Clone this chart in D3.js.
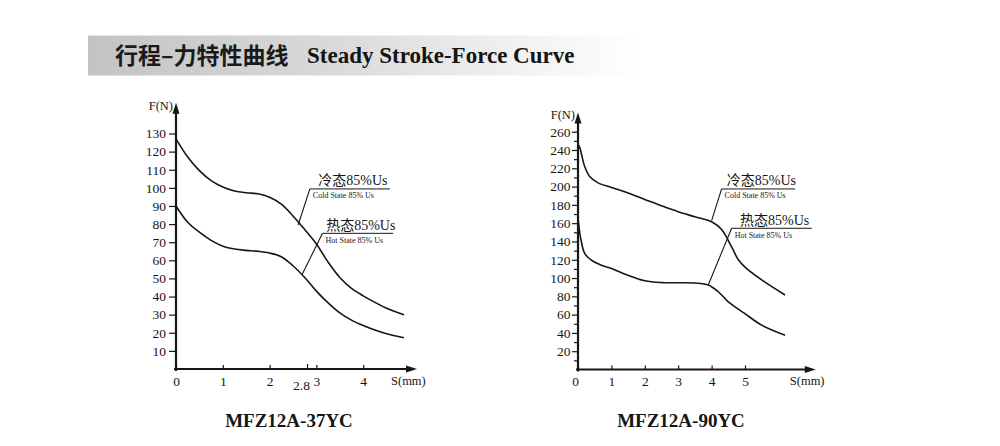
<!DOCTYPE html>
<html><head><meta charset="utf-8">
<script src="https://cdn.jsdelivr.net/npm/d3@7"></script>
<style>
html,body{margin:0;padding:0;background:#fff;}
svg{display:block;}
</style></head>
<body>
<svg id="c" width="1000" height="446"></svg>
<script>
// ---------- DATA ----------
const titleCN = "行程–力特性曲线";
const titleEN = "Steady Stroke-Force Curve";

// Left chart: MFZ12A-37YC
const leftName = "MFZ12A-37YC";
const leftS = [0,0.25,0.5,0.75,1,1.25,1.5,1.75,2,2.25,2.5,2.75,3,3.25,3.5,3.75,4,4.25,4.5,4.87];
const leftCold = [127,117,109.5,104,100.5,98.3,97.3,96.7,94.8,91,84.5,77,69,59,50.5,44.5,40.4,36.8,33.5,30];
const leftHot  = [90,81,75.5,71,67.8,66.2,65.5,65,64,62,57,50.5,43,36.5,31,27,24,21.5,19.5,17.3];
const leftXTicks = [0,1,2,2.8,3,4];
const leftYTicks = [10,20,30,40,50,60,70,80,90,100,110,120,130];

// Right chart: MFZ12A-90YC
const rightName = "MFZ12A-90YC";
const rightColdS = [0,0.05,0.1,0.2,0.35,0.6,1,1.5,2,2.5,3,3.5,4,4.3,4.6,4.8,5,5.5,6.2];
const rightCold  = [246,243,236,222,211,204,199,193,186,179,172.5,167,161.5,153,134,120,112,98,81.5];
const rightHotS  = [0,0.05,0.1,0.2,0.4,0.7,1,1.5,2,2.5,3,3.5,3.9,4.2,4.5,5,5.5,6.2];
const rightHot   = [166,150,140,127,119.5,114,110.5,103,97,95,94.8,94.5,92.4,85,74,61,48.5,37.5];
const rightXTicks = [0,1,2,3,4,5];
const rightYTicks = d3.range(10,261,10);

// annotations (data coordinates): underline start S, underline end S, F level, leader end S, leader end F
const coldLabel = "冷态85%Us", coldSub = "Cold State  85% Us";
const hotLabel  = "热态85%Us", hotSub  = "Hot State  85% Us";
const leftAnn  = [{t:coldLabel,s:coldSub,s0:2.86,s1:4.57,f:99.4,ls:2.61,lf:79.5},
                  {t:hotLabel, s:hotSub, s0:3.13,s1:4.64,f:74.9,ls:2.69,lf:51.9}];
const rightAnn = [{t:coldLabel,s:coldSub,s0:4.30,s1:6.50,f:197.4,ls:4.0,lf:162.7},
                  {t:hotLabel, s:hotSub, s0:4.60,s1:7.0, f:154.4,ls:3.90,lf:92.4}];

// ---------- DRAW ----------
const svg = d3.select("#c");
const INK = "#161616";
const SERIF = "'Liberation Serif','Times New Roman',serif";
const CJKSERIF = "'Liberation Serif','Noto Sans CJK SC',serif";

// Title banner
const defs = svg.append("defs");
const g = defs.append("linearGradient").attr("id","bn").attr("x1","0").attr("x2","1");
g.append("stop").attr("offset","0").attr("stop-color","#c3c3c3");
g.append("stop").attr("offset","0.45").attr("stop-color","#dadada");
g.append("stop").attr("offset","0.8").attr("stop-color","#f3f3f3");
g.append("stop").attr("offset","1").attr("stop-color","#ffffff");
svg.append("rect").attr("x",88).attr("y",35.5).attr("width",555).attr("height",40).attr("fill","url(#bn)");
svg.append("text").attr("x",115).attr("y",63.5)
  .attr("font-family","'Noto Sans CJK SC',sans-serif").attr("font-weight",700)
  .attr("font-size",23).attr("fill","#1a1a1a").text(titleCN);
svg.append("text").attr("x",307).attr("y",62.5)
  .attr("font-family",SERIF).attr("font-weight",700)
  .attr("font-size",23).attr("fill","#141414").text(titleEN);

function drawChart(cfg){
  const {x, y, xEnd, yEnd} = cfg;
  const G = svg.append("g");
  // y axis ticks
  const ya = d3.axisLeft(y).tickValues(cfg.yTicks).tickSize(cfg.yTickSize).tickPadding(cfg.yPad)
     .tickFormat(cfg.yFormat);
  const yg = G.append("g").attr("transform",`translate(${x(0)},0)`).call(ya);
  yg.select(".domain").remove();
  yg.selectAll("line").attr("stroke",INK).attr("stroke-width",1.2);
  if(cfg.minorShort){
    yg.selectAll(".tick").filter(d=>d%20!==0).select("line").attr("x2",-4);
  }
  yg.selectAll("text").attr("font-family",SERIF).attr("font-size",13.5).attr("fill",INK);

  // x axis ticks (upward)
  const xa = d3.axisBottom(x).tickValues(cfg.xTicks).tickSize(-4).tickPadding(7)
     .tickFormat(d=>String(d));
  const xg = G.append("g").attr("transform",`translate(0,${y(0)})`).call(xa);
  xg.select(".domain").remove();
  xg.selectAll("line").attr("stroke",INK).attr("stroke-width",1.2);
  xg.selectAll("text").attr("font-family",SERIF).attr("font-size",13.5).attr("fill",INK);
  xg.selectAll(".tick").filter(d=>d===0).select("text").attr("dx",cfg.zeroDx||0);
  xg.selectAll(".tick").filter(d=>d===2.8).select("text").attr("dy","1.05em").attr("dx",-6);
  xg.selectAll(".tick").filter(d=>d===2.8).select("line").attr("y2",-5);

  // axis lines with arrows
  const x0 = x(0), y0 = y(0), xe = x(xEnd), ye = y(yEnd);
  G.append("line").attr("x1",x0-2).attr("y1",y0).attr("x2",xe-6).attr("y2",y0)
   .attr("stroke",INK).attr("stroke-width",2.2);
  G.append("path").attr("d",`M${xe},${y0} L${xe-11},${y0-3.5} L${xe-11},${y0+3.5} Z`).attr("fill",INK);
  G.append("line").attr("x1",x0).attr("y1",y0+2).attr("x2",x0).attr("y2",ye+6)
   .attr("stroke",INK).attr("stroke-width",2.2);
  G.append("path").attr("d",`M${x0},${ye} L${x0-3.5},${ye+11} L${x0+3.5},${ye+11} Z`).attr("fill",INK);

  // axis titles
  G.append("text").attr("x",x0-3).attr("y",ye+4).attr("text-anchor","end")
   .attr("dominant-baseline","middle").attr("font-family",SERIF).attr("font-size",12.5)
   .attr("fill",INK).text("F(N)");
  G.append("text").attr("x",xe-26).attr("y",y0+13).attr("text-anchor","start")
   .attr("dominant-baseline","middle").attr("font-family",SERIF).attr("font-size",12.5)
   .attr("fill",INK).text("S(mm)");

  // curves
  const line = d3.line().x(d=>x(d[0])).y(d=>y(d[1])).curve(d3.curveCatmullRom.alpha(0.5));
  cfg.series.forEach(sr=>{
    G.append("path").datum(d3.zip(sr.s, sr.v)).attr("d",line)
     .attr("fill","none").attr("stroke",INK).attr("stroke-width",1.6);
  });

  // annotations
  cfg.ann.forEach(a=>{
    const ux0 = x(a.s0), ux1 = x(a.s1), uy = y(a.f);
    G.append("line").attr("x1",ux0).attr("y1",uy).attr("x2",ux1).attr("y2",uy)
     .attr("stroke",INK).attr("stroke-width",1);
    G.append("line").attr("x1",ux0).attr("y1",uy).attr("x2",x(a.ls)).attr("y2",y(a.lf))
     .attr("stroke",INK).attr("stroke-width",1.1);
    G.append("text").attr("x",(ux0+ux1)/2+3).attr("y",uy-3.5).attr("text-anchor","middle")
     .attr("font-family",CJKSERIF).attr("font-size",14).attr("fill",INK).text(a.t);
    G.append("text").attr("x",ux0+3).attr("y",uy+9.5)
     .attr("font-family",SERIF).attr("font-size",8).attr("fill",INK).text(a.s);
  });

  // chart name
  svg.append("text").attr("x",cfg.nameX).attr("y",427).attr("text-anchor","middle")
   .attr("font-family",SERIF).attr("font-weight",700).attr("font-size",19)
   .attr("fill",INK).text(cfg.name);
}

// Left chart scales
const xL = d3.scaleLinear().domain([0,4]).range([176, 176+4*46.8]);
const yL = d3.scaleLinear().domain([0,130]).range([369, 133.5]);
drawChart({x:xL, y:yL, xEnd:5.15, yEnd:147, xTicks:leftXTicks, yTicks:leftYTicks,
  yTickSize:7, yPad:3, yFormat:d=>String(d), minorShort:false,
  series:[{s:leftS,v:leftCold},{s:leftS,v:leftHot}], ann:leftAnn,
  name:leftName, nameX:289});

// Right chart scales
const xR = d3.scaleLinear().domain([0,5]).range([578, 578+5*33.4]);
const yR = d3.scaleLinear().domain([0,260]).range([369.5, 131.7]);
drawChart({x:xR, y:yR, xEnd:7.12, yEnd:281, xTicks:rightXTicks, yTicks:rightYTicks,
  yTickSize:6, yPad:1.5, yFormat:d=>d%20===0?String(d):"", minorShort:true, zeroDx:-3,
  series:[{s:rightColdS,v:rightCold},{s:rightHotS,v:rightHot}], ann:rightAnn,
  name:rightName, nameX:681});
</script>
</body></html>
